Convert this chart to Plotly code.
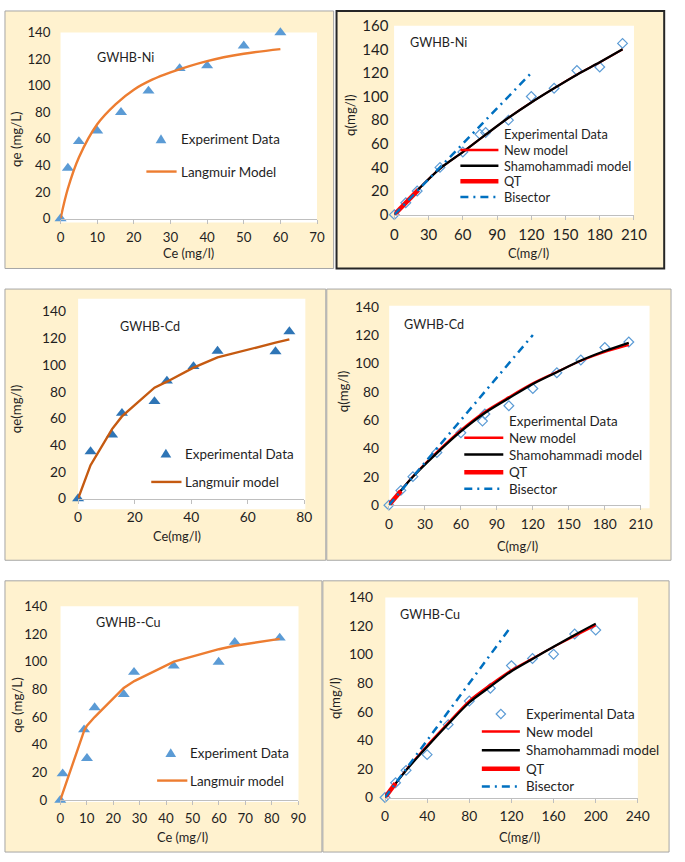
import plotly.graph_objects as go

W, H = 685, 862
FONT = "Lato"
TXT = "#1F1F1F"

# ---------------- DATA ----------------
# Panel 1: GWHB-Ni, Langmuir
ni_ce = [0, 2, 5, 10, 16.5, 24, 32.5, 40, 50, 60]
ni_qe = [0, 38, 58, 66, 80, 96, 113, 115, 130, 140]
ni_lang_ce = [0, 2, 5, 10, 15, 20, 25, 30, 40, 50, 60]
ni_lang_qe = [0, 22.6, 46, 71, 86, 97, 104.5, 110, 118.5, 124, 127.5]

# Panel 2: GWHB-Ni, models
ni_c = [0, 10, 20, 40, 60, 75, 80, 100, 120, 140, 160, 180, 200]
ni_q = [0, 10, 20, 40, 53, 68, 69.5, 80, 100, 107, 122, 125, 145]
ni_model_c = [0, 20, 40, 60, 80, 100, 120, 140, 160, 180, 200]
ni_new_q = [0, 20.5, 39, 53, 67.7, 82, 95, 107, 118.5, 129, 140]
ni_sham_q = [0, 20.5, 39, 53, 67.7, 82, 95, 107, 118.5, 129, 140]
ni_qt_c = [0, 10, 21]
ni_qt_q = [0, 10, 21]

# Panel 3: GWHB-Cd, Langmuir
cd_ce = [0, 4.4, 12, 15.5, 27, 31.4, 40.8, 49.3, 69.8, 74.7]
cd_qe = [0, 35.2, 47.7, 63.9, 72.7, 88.1, 98.9, 110.4, 110.1, 125]
cd_lang_qe = [0, 25, 52, 61.5, 83, 87.5, 98, 105.7, 116.7, 119.2]

# Panel 4: GWHB-Cd, models
cd_c = [0, 10, 20, 40, 60, 78, 80, 100, 120, 140, 160, 180, 200]
cd_q = [0, 10.4, 20.1, 37.1, 51, 59.3, 64.3, 70.1, 82.3, 93.4, 102.4, 111.2, 115.1]
cd_model_c = [0, 20, 40, 60, 80, 100, 120, 140, 160, 180, 200]
cd_new_q = [0, 20.3, 37.5, 53, 66, 76.3, 86, 94, 101.8, 108, 113]
cd_sham_q = [0, 20, 36.7, 52, 65, 75.4, 85.5, 93.8, 102, 108.7, 114.5]
cd_qt_c = [0, 10]
cd_qt_q = [0, 10]

# Panel 5: GWHB--Cu, Langmuir
cu_ce = [0, 0.9, 9, 10.1, 13, 24, 27.9, 42.9, 59.9, 66, 83]
cu_qe = [0, 19.1, 50.9, 30.2, 66.9, 76.4, 92.4, 96.9, 99.7, 114.1, 117.1]
cu_lang_ce = [0, 1, 9, 10, 13, 24, 28, 43, 60, 66, 83]
cu_lang_qe = [0, 5.5, 50, 53.5, 60, 81, 86, 100, 109, 111.5, 116.5]

# Panel 6: GWHB-Cu, models
cu_c = [0, 10, 20, 40, 60, 80, 100, 120, 140, 160, 180, 200]
cu_q = [0, 10.3, 19, 30, 51, 67.5, 76.5, 92.3, 97.3, 100.3, 114.4, 117.2]
cu_model_c = [0, 20, 40, 60, 80, 100, 120, 140, 160, 180, 200]
cu_new_q = [0, 19.3, 36.5, 52.3, 67.8, 79, 89.2, 97.4, 105.5, 113, 120.5]
cu_sham_q = [0, 19, 35.5, 51.4, 66.5, 77.6, 88.4, 97, 105.5, 113.8, 121.7]
cu_qt_c = [0, 10]
cu_qt_q = [0, 10]

bisector_c = [0, 120]
bisector_q = [0, 120]

# ---------------- STYLE / LAYOUT ----------------
BG = "#FFF2CF"
BLUE_M = "#5B9BD5"
ORANGE = "#ED7D31"
DORANGE = "#C55A11"
RED = "#FF0000"
BIS = "#0070C0"


def fx(x):
    return x / W


def fy(y):
    return 1 - y / H


fig = go.Figure()

panels = [
    dict(xd=(58, 321), yd=(23, 213), xr=70, yr=140, xdt=10, tf=13.3, ys=9),
    dict(xd=(400.3, 646), yd=(16, 209), xr=210, yr=160, xdt=30, tf=15, ys=5),
    dict(xd=(76, 308), yd=(308, 499), xr=80, yr=140, xdt=20, tf=13.8, ys=11),
    dict(xd=(394.7, 653), yd=(303, 505.7), xr=210, yr=140, xdt=30, tf=13.8, ys=9),
    dict(xd=(57.7, 301.7), yd=(609, 807), xr=90, yr=140, xdt=10, tf=13.3, ys=12),
    dict(xd=(390.7, 650), yd=(600, 804.3), xr=240, yr=140, xdt=40, tf=13.8, ys=11),
]

layout_axes = {}
for i, p in enumerate(panels, start=1):
    s = "" if i == 1 else str(i)
    layout_axes["xaxis" + s] = dict(
        domain=[fx(p["xd"][0]), fx(p["xd"][1])], range=[0, p["xr"]],
        tick0=0, dtick=p["xdt"], showgrid=False, zeroline=False,
        showline=True, linecolor="#BFBFBF", linewidth=1,
        ticks="outside", ticklen=4, tickcolor="#BFBFBF",
        tickfont=dict(size=p["tf"], color=TXT, family=FONT),
        anchor="y" + s, fixedrange=True, ticklabelstandoff=2)
    layout_axes["yaxis" + s] = dict(
        domain=[fy(p["yd"][1]), fy(p["yd"][0])], range=[0, p["yr"]],
        tick0=0, dtick=20, showgrid=False, zeroline=False, showline=False,
        ticks="", tickfont=dict(size=p["tf"], color=TXT, family=FONT),
        anchor="x" + s, fixedrange=True, ticklabelstandoff=p["ys"])


def ax(i):
    s = "" if i == 1 else str(i)
    return dict(xaxis="x" + s, yaxis="y" + s)


tri = dict(symbol="triangle-up", size=10.5)
dia = dict(symbol="diamond-open", size=7.5, color=BLUE_M, line=dict(width=1.2, color=BLUE_M))

# Panel 1
fig.add_trace(go.Scatter(x=ni_ce, y=ni_qe, mode="markers", name="Experiment Data",
                         marker=dict(color=BLUE_M, **tri), cliponaxis=False, **ax(1)))
fig.add_trace(go.Scatter(x=ni_lang_ce, y=ni_lang_qe, mode="lines", name="Langmuir Model",
                         line=dict(color=ORANGE, width=2.4, shape="spline", smoothing=1.0),
                         cliponaxis=False, **ax(1)))
# Panel 3
fig.add_trace(go.Scatter(x=cd_ce, y=cd_qe, mode="markers", name="Experimental Data",
                         marker=dict(color="#2E75B6", **tri), cliponaxis=False, **ax(3)))
fig.add_trace(go.Scatter(x=cd_ce, y=cd_lang_qe, mode="lines", name="Langmuir model",
                         line=dict(color=DORANGE, width=2.4), cliponaxis=False, **ax(3)))
# Panel 5
fig.add_trace(go.Scatter(x=cu_ce, y=cu_qe, mode="markers", name="Experiment Data",
                         marker=dict(color=BLUE_M, **tri), cliponaxis=False, **ax(5)))
fig.add_trace(go.Scatter(x=cu_lang_ce, y=cu_lang_qe, mode="lines", name="Langmuir model",
                         line=dict(color=ORANGE, width=2.4), cliponaxis=False, **ax(5)))

# Right panels
right = [
    (2, ni_c, ni_q, ni_model_c, ni_new_q, ni_sham_q, ni_qt_c, ni_qt_q),
    (4, cd_c, cd_q, cd_model_c, cd_new_q, cd_sham_q, cd_qt_c, cd_qt_q),
    (6, cu_c, cu_q, cu_model_c, cu_new_q, cu_sham_q, cu_qt_c, cu_qt_q),
]
for (i, c, q, mc, nq, sq, qc, qq) in right:
    fig.add_trace(go.Scatter(x=c, y=q, mode="markers", name="Experimental Data",
                             marker=dict(**dia), cliponaxis=False, **ax(i)))
    fig.add_trace(go.Scatter(x=mc, y=nq, mode="lines", name="New model",
                             line=dict(color=RED, width=2, shape="spline", smoothing=0.8),
                             cliponaxis=False, **ax(i)))
    fig.add_trace(go.Scatter(x=mc, y=sq, mode="lines", name="Shamohammadi model",
                             line=dict(color="#000000", width=2.25, shape="spline", smoothing=0.8),
                             cliponaxis=False, **ax(i)))
    fig.add_trace(go.Scatter(x=qc, y=qq, mode="lines", name="QT",
                             line=dict(color=RED, width=4.5), cliponaxis=False, **ax(i)))
    fig.add_trace(go.Scatter(x=bisector_c, y=bisector_q, mode="lines", name="Bisector",
                             line=dict(color=BIS, width=2.5, dash="8px,5px,2px,5px"),
                             cliponaxis=False, **ax(i)))

shapes = []
annotations = []


def rect(x0, y0, x1, y1, fill, lc, lw):
    shapes.append(dict(type="rect", xref="paper", yref="paper", layer="below",
                       x0=fx(x0), x1=fx(x1), y0=fy(y1), y1=fy(y0),
                       fillcolor=fill, line=dict(color=lc, width=lw)))


# panel boxes
rect(1, 1, 338, 264, BG, "#A6A6A6", 1)
rect(341, 1, 677, 264, BG, "#262626", 2)
rect(1, 285, 330, 562, BG, "#A6A6A6", 1)
rect(331, 285, 684, 562, BG, "#A6A6A6", 1)
rect(1, 583, 326, 860, BG, "#A6A6A6", 1)
rect(327, 583, 682, 860, BG, "#A6A6A6", 1)
# white plot areas
for (x0, y0, x1, y1) in [(58, 23, 321, 217), (400, 16, 646, 212), (76, 295, 309, 510),
                         (395, 302, 662, 509), (58, 609, 302, 809), (391, 600, 650, 807)]:
    rect(x0, y0, x1, y1, "#FFFFFF", "rgba(0,0,0,0)", 0)


def text(x, y, s, size, xanchor="left", angle=0):
    annotations.append(dict(x=fx(x), y=fy(y), xref="paper", yref="paper", text=s,
                            showarrow=False, xanchor=xanchor, yanchor="middle",
                            textangle=angle, font=dict(family=FONT, size=size, color=TXT)))


def lseg(x0, x1, y, color, width, dash="solid"):
    shapes.append(dict(type="line", xref="paper", yref="paper", x0=fx(x0), x1=fx(x1),
                       y0=fy(y), y1=fy(y), line=dict(color=color, width=width, dash=dash)))


def triangle(cx, cy, color):
    path = "M {:.5f},{:.5f} L {:.5f},{:.5f} L {:.5f},{:.5f} Z".format(
        fx(cx - 5.5), fy(cy + 4), fx(cx + 5.5), fy(cy + 4), fx(cx), fy(cy - 5))
    shapes.append(dict(type="path", xref="paper", yref="paper", path=path,
                       fillcolor=color, line=dict(width=0, color=color)))


def diamond(cx, cy):
    r = 4.8
    path = "M {:.5f},{:.5f} L {:.5f},{:.5f} L {:.5f},{:.5f} L {:.5f},{:.5f} Z".format(
        fx(cx - r), fy(cy), fx(cx), fy(cy - r), fx(cx + r), fy(cy), fx(cx), fy(cy + r))
    shapes.append(dict(type="path", xref="paper", yref="paper", path=path,
                       fillcolor="rgba(0,0,0,0)", line=dict(width=1.2, color=BLUE_M)))


# panel titles
TS = 12.6
text(93, 49, "GWHB-Ni", TS)
text(414, 33, "GWHB-Ni", TS)
text(117, 323, "GWHB-Cd", TS)
text(408, 321, "GWHB-Cd", TS)
text(92, 626, "GWHB--Cu", TS)
text(404, 617, "GWHB-Cu", TS)

# axis titles
XT, YT = 12.8, 13.3
text(189, 248, "Ce (mg/l)", XT, "center")
text(13, 132, "qe (mg/L)", YT, "center", -90)
text(538, 248, "C(mg/l)", XT, "center")
text(355, 108, "q(mg/l)", YT, "center", -90)
text(177, 537, "Ce(mg/l)", XT, "center")
text(13, 408, "qe(mg/l)", YT, "center", -90)
text(527, 547, "C(mg/l)", XT, "center")
text(347, 390, "q(mg/l)", YT, "center", -90)
text(183, 845, "Ce (mg/l)", XT, "center")
text(13, 710, "qe (mg/L)", YT, "center", -90)
text(529, 845, "C(mg/l)", XT, "center")
text(340, 703, "q(mg/l)", YT, "center", -90)

# legends - left panels
LF = 13.4
triangle(161, 132, BLUE_M)
text(179, 132, "Experiment Data", LF)
lseg(146, 177, 165, ORANGE, 2.4)
text(179, 165, "Langmuir Model", LF)

triangle(166, 453, "#2E75B6")
text(184, 453, "Experimental Data", LF)
lseg(151, 182, 482, DORANGE, 2.4)
text(184, 482, "Langmuir model", LF)

triangle(171, 759, BLUE_M)
text(189, 759, "Experiment Data", LF)
lseg(157, 188, 787, ORANGE, 2.4)
text(189, 787, "Langmuir model", LF)

# legends - right panels
labels = ["Experimental Data", "New model", "Shamohammadi model", "QT", "Bisector"]
right_leg = [
    (511, 468, 507, [127, 143, 159, 175, 191], False, 12.8),
    (516, 472, 512, [420, 437, 454, 472, 489], False, 13.4),
    (533, 490, 529, [719, 737, 756, 775, 793], True, 13.4),
]
for (tx, sx0, sx1, rows, show_marker, lf) in right_leg:
    for lab, ry in zip(labels, rows):
        text(tx, ry, lab, lf)
    if show_marker:
        diamond((sx0 + sx1) / 2, rows[0])
    lseg(sx0, sx1, rows[1], RED, 2.5)
    lseg(sx0, sx1, rows[2], "#000000", 2.5)
    lseg(sx0, sx1, rows[3], RED, 4.5)
    lseg(sx0, sx1, rows[4], BIS, 2.5, "8px,5px,2px,5px")

fig.update_layout(
    width=W, height=H, margin=dict(l=0, r=0, t=0, b=0),
    paper_bgcolor="#FFFFFF", plot_bgcolor="rgba(0,0,0,0)",
    showlegend=False, font=dict(family=FONT, color=TXT),
    shapes=shapes, annotations=annotations, **layout_axes)

POST = """
var gd = document.getElementById('{plot_id}');
gd.style.position='absolute'; gd.style.top='0px'; gd.style.left='0px';
document.body.style.margin='0px'; document.body.style.overflow='hidden';
document.documentElement.style.overflow='hidden';
"""
fig.write_html("out.html", config={"displayModeBar": False}, post_script=POST)
